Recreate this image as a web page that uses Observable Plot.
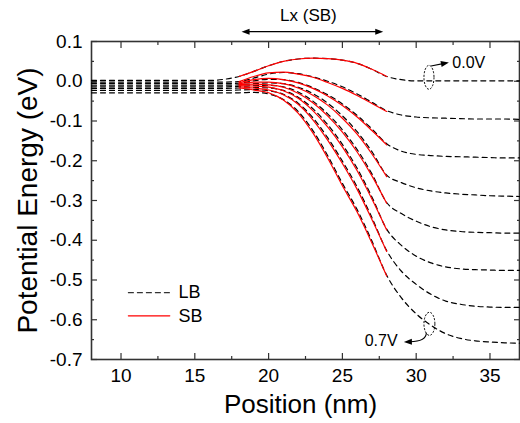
<!DOCTYPE html>
<html><head><meta charset="utf-8">
<script src="https://cdn.jsdelivr.net/npm/d3@7"></script>
<script src="https://cdn.jsdelivr.net/npm/@observablehq/plot@0.6"></script>
<style>body{margin:0;background:#fff}</style>
</head><body><div id="chart"></div>
<script>
// ---- data ----
const voltages = ["0.0V","0.1V","0.2V","0.3V","0.4V","0.5V","0.6V","0.7V"];

// LB (long body, dashed black)
const xLB = [8,10,12,14,16,17,18,19,20,21,22,23,24,25,26,27,28,29,30,31,32,33,34,35,36,37];
const lb0 = [0.002,0.002,0.002,0.002,0.002,0.005,0.012,0.025,0.039,0.050,0.056,0.058,0.057,0.053,0.045,0.030,0.012,0.004,0.001,0.001,0.001,0.001,0.001,0.001,0.001,0.001];
const lb1 = [-0.002,-0.002,-0.002,-0.002,-0.002,-0.002,-0.001,0.008,0.018,0.022,0.019,0.011,0.000,-0.014,-0.032,-0.053,-0.074,-0.085,-0.090,-0.092,-0.093,-0.094,-0.095,-0.095,-0.095,-0.096];
const lb2 = [-0.006,-0.006,-0.006,-0.006,-0.006,-0.006,-0.005,0.001,0.005,0.004,-0.003,-0.016,-0.034,-0.057,-0.086,-0.120,-0.157,-0.176,-0.184,-0.187,-0.189,-0.190,-0.191,-0.192,-0.193,-0.193];
const lb3 = [-0.010,-0.010,-0.010,-0.010,-0.010,-0.010,-0.009,-0.006,-0.004,-0.006,-0.015,-0.031,-0.055,-0.087,-0.127,-0.177,-0.236,-0.255,-0.268,-0.276,-0.281,-0.284,-0.286,-0.288,-0.289,-0.290];
const lb4 = [-0.014,-0.014,-0.014,-0.014,-0.014,-0.014,-0.013,-0.011,-0.010,-0.014,-0.027,-0.050,-0.082,-0.122,-0.172,-0.233,-0.305,-0.333,-0.352,-0.366,-0.374,-0.378,-0.380,-0.381,-0.382,-0.382];
const lb5 = [-0.018,-0.018,-0.018,-0.018,-0.018,-0.018,-0.017,-0.016,-0.017,-0.023,-0.040,-0.069,-0.109,-0.159,-0.219,-0.291,-0.372,-0.413,-0.440,-0.457,-0.467,-0.472,-0.474,-0.475,-0.476,-0.476];
const lb6 = [-0.023,-0.023,-0.023,-0.023,-0.023,-0.023,-0.022,-0.021,-0.024,-0.033,-0.055,-0.092,-0.142,-0.201,-0.266,-0.343,-0.426,-0.478,-0.511,-0.536,-0.553,-0.561,-0.566,-0.568,-0.569,-0.569];
const lb7 = [-0.029,-0.029,-0.029,-0.029,-0.029,-0.029,-0.029,-0.028,-0.032,-0.046,-0.076,-0.124,-0.187,-0.257,-0.323,-0.402,-0.488,-0.545,-0.585,-0.614,-0.635,-0.647,-0.653,-0.656,-0.658,-0.659];

// SB (short body, solid red)
const xSB = [18,19,20,21,22,23,24,25,26,27,28];
const sb0 = [0.012,0.025,0.039,0.050,0.056,0.058,0.057,0.053,0.045,0.030,0.012];
const sb1 = [-0.001,0.012,0.021,0.023,0.018,0.010,-0.003,-0.018,-0.036,-0.056,-0.076];
const sb2 = [-0.004,0.004,0.007,0.004,-0.004,-0.018,-0.037,-0.061,-0.090,-0.124,-0.160];
const sb3 = [-0.006,-0.002,-0.002,-0.006,-0.017,-0.035,-0.060,-0.093,-0.133,-0.183,-0.240];
const sb4 = [-0.008,-0.007,-0.009,-0.015,-0.030,-0.054,-0.087,-0.128,-0.178,-0.238,-0.307];
const sb5 = [-0.011,-0.012,-0.015,-0.024,-0.043,-0.074,-0.115,-0.165,-0.225,-0.296,-0.374];
const sb6 = [-0.014,-0.017,-0.022,-0.034,-0.058,-0.097,-0.148,-0.207,-0.272,-0.348,-0.428];
const sb7 = [-0.017,-0.022,-0.029,-0.047,-0.080,-0.130,-0.193,-0.263,-0.329,-0.407,-0.490];

// ticks
const xMajor = [10,15,20,25,30,35];
const xMinor = [12.5,17.5,22.5,27.5,32.5];
const yMajor = [0.1,0,-0.1,-0.2,-0.3,-0.4,-0.5,-0.6,-0.7];
const yMinor = [0.05,-0.05,-0.15,-0.25,-0.35,-0.45,-0.55,-0.65];

// legend
const legendLabels = ["LB","SB"];
const legendY = [-0.532,-0.590];
const legendX = [10.5,13.3];

// annotations (data coordinates)
const lxArrow = {x1: 18.2, x2: 27.8, y: 0.1235};
const lxText = {x: 22.7, y: 0.166, text: "Lx (SB)"};
const ann0 = {cx: 30.9, cy: 0.0086, rx: 0.34, ry: 0.030, ax1: 31.04, ay1: 0.037, ax2: 32.25, ay2: 0.046, tx: 32.45, ty: 0.045, text: "0.0V"};
const ann7 = {cx: 30.93, cy: -0.6115, rx: 0.37, ry: 0.029, ax1: 30.72, ay1: -0.634, cxp: 30.72, cyp: -0.656, ax2: 29.2, ay2: -0.657, tx: 28.74, ty: -0.652, text: "0.7V"};

// ---- build tables ----
const lbSeries = [lb0,lb1,lb2,lb3,lb4,lb5,lb6,lb7];
const sbSeries = [sb0,sb1,sb2,sb3,sb4,sb5,sb6,sb7];
const lbRows = lbSeries.flatMap((s, k) => s.map((v, i) => ({x: xLB[i], y: v, v: voltages[k]})));
const sbRows = sbSeries.flatMap((s, k) => s.map((v, i) => ({x: xSB[i], y: v, v: voltages[k]})));
const legendRows = legendLabels.flatMap((lab, k) => legendX.map(x => ({x, y: legendY[k], lab})));

function annotations(index, scales, values, dimensions) {
  const x = scales.x, y = scales.y;
  const g = d3.create("svg:g").attr("fill", "none").attr("stroke", "black");
  const head = (tx, ty, ang) => {
    const L = 8, W = 3;
    const bx = tx - L*Math.cos(ang), by = ty - L*Math.sin(ang);
    const nx = -Math.sin(ang)*W, ny = Math.cos(ang)*W;
    g.append("path").attr("d", `M${tx},${ty}L${bx+nx},${by+ny}L${bx-nx},${by-ny}Z`).attr("fill", "black").attr("stroke", "none");
  };
  // Lx arrow
  const ly = y(lxArrow.y), lx1 = x(lxArrow.x1), lx2 = x(lxArrow.x2);
  g.append("line").attr("x1", lx1+4).attr("x2", lx2-4).attr("y1", ly).attr("y2", ly).attr("stroke-width", 1.2);
  head(lx1, ly, Math.PI); head(lx2, ly, 0);
  // ellipses
  for (const a of [ann0, ann7]) {
    const cx = x(a.cx), cy = y(a.cy);
    const rx = Math.abs(x(a.cx + a.rx) - cx), ry = Math.abs(y(a.cy + a.ry) - cy);
    g.append("ellipse").attr("cx", cx).attr("cy", cy).attr("rx", rx).attr("ry", ry)
      .attr("stroke-dasharray", "2,1.5").attr("stroke-width", 1);
  }
  // 0.0V arrow
  {
    const x1 = x(ann0.ax1), y1 = y(ann0.ay1), x2 = x(ann0.ax2), y2 = y(ann0.ay2);
    const ang = Math.atan2(y2 - y1, x2 - x1);
    g.append("line").attr("x1", x1).attr("y1", y1).attr("x2", x2 - 6*Math.cos(ang)).attr("y2", y2 - 6*Math.sin(ang)).attr("stroke-width", 1.1);
    head(x2, y2, ang);
  }
  // 0.7V curved arrow
  {
    const x1 = x(ann7.ax1), y1 = y(ann7.ay1), cxp = x(ann7.cxp), cyp = y(ann7.cyp), x2 = x(ann7.ax2), y2 = y(ann7.ay2);
    const ang = Math.atan2(y2 - cyp, x2 - cxp);
    g.append("path").attr("d", `M${x1},${y1}Q${cxp},${cyp} ${x2 - 6*Math.cos(ang)},${y2 - 6*Math.sin(ang)}`).attr("stroke-width", 1.1);
    head(x2, y2, ang);
  }
  return g.node();
}

const axisStyle = {stroke: "#333", strokeWidth: 1.2};

const chart = Plot.plot({
  width: 520,
  height: 423,
  marginLeft: 91,
  marginRight: 1,
  marginTop: 41,
  marginBottom: 64,
  x: {domain: [8, 37]},
  y: {domain: [-0.7, 0.1]},
  style: {fontFamily: "'Liberation Sans', Arial, sans-serif", fontSize: "19px", color: "#000", background: "#fff"},
  marks: [
    // axes
    Plot.axisX({anchor: "bottom", ticks: xMajor, tickSize: -6, tickPadding: 15, tickFormat: d => String(d), label: null, ...axisStyle}),
    Plot.axisX({anchor: "bottom", ticks: xMinor, tickSize: -3, tickFormat: () => "", label: null, ...axisStyle}),
    Plot.axisX({anchor: "top", ticks: xMajor, tickSize: -6, tickFormat: () => "", label: null, ...axisStyle}),
    Plot.axisX({anchor: "top", ticks: xMinor, tickSize: -3, tickFormat: () => "", label: null, ...axisStyle}),
    Plot.axisY({anchor: "left", ticks: yMajor, tickSize: -6, tickPadding: 15, tickFormat: d => d.toFixed(1), label: null, ...axisStyle}),
    Plot.axisY({anchor: "left", ticks: yMinor, tickSize: -3, tickFormat: () => "", label: null, ...axisStyle}),
    Plot.axisY({anchor: "right", ticks: yMajor, tickSize: -6, tickFormat: () => "", label: null, ...axisStyle}),
    Plot.axisY({anchor: "right", ticks: yMinor, tickSize: -3, tickFormat: () => "", label: null, ...axisStyle}),
    Plot.frame({stroke: "#333", strokeWidth: 1.6}),
    // data
    Plot.line(lbRows, {x: "x", y: "y", z: "v", stroke: "black", strokeWidth: 1.2, strokeDasharray: "5,4", curve: "monotone-x"}),
    Plot.line(sbRows, {x: "x", y: "y", z: "v", stroke: "#ff0000", strokeWidth: 1.2, curve: "monotone-x"}),
    // legend
    Plot.line(legendRows.filter(d => d.lab === "LB"), {x: "x", y: "y", stroke: "#333", strokeWidth: 1.2, strokeDasharray: "5,4"}),
    Plot.line(legendRows.filter(d => d.lab === "SB"), {x: "x", y: "y", stroke: "#ff0000", strokeWidth: 1.3}),
    Plot.text(legendLabels, {x: legendX[1] + 0.6, y: (d, i) => legendY[i], text: d => d, textAnchor: "start", fontSize: 18}),
    // titles
    Plot.text(["Position (nm)"], {frameAnchor: "bottom", dx: -5, dy: 53, text: d => d, fontSize: 26, textAnchor: "middle"}),
    Plot.text(["Potential Energy (eV)"], {frameAnchor: "left", dx: -63, rotate: -90, text: d => d, fontSize: 28, textAnchor: "middle"}),
    // annotation texts
    Plot.text([lxText], {x: "x", y: "y", text: "text", fontSize: 17}),
    Plot.text([ann0], {x: "tx", y: "ty", text: "text", textAnchor: "start", fontSize: 16}),
    Plot.text([ann7], {x: "tx", y: "ty", text: "text", textAnchor: "end", fontSize: 16}),
    annotations
  ]
});
document.getElementById("chart").append(chart);
</script>
</body></html>
